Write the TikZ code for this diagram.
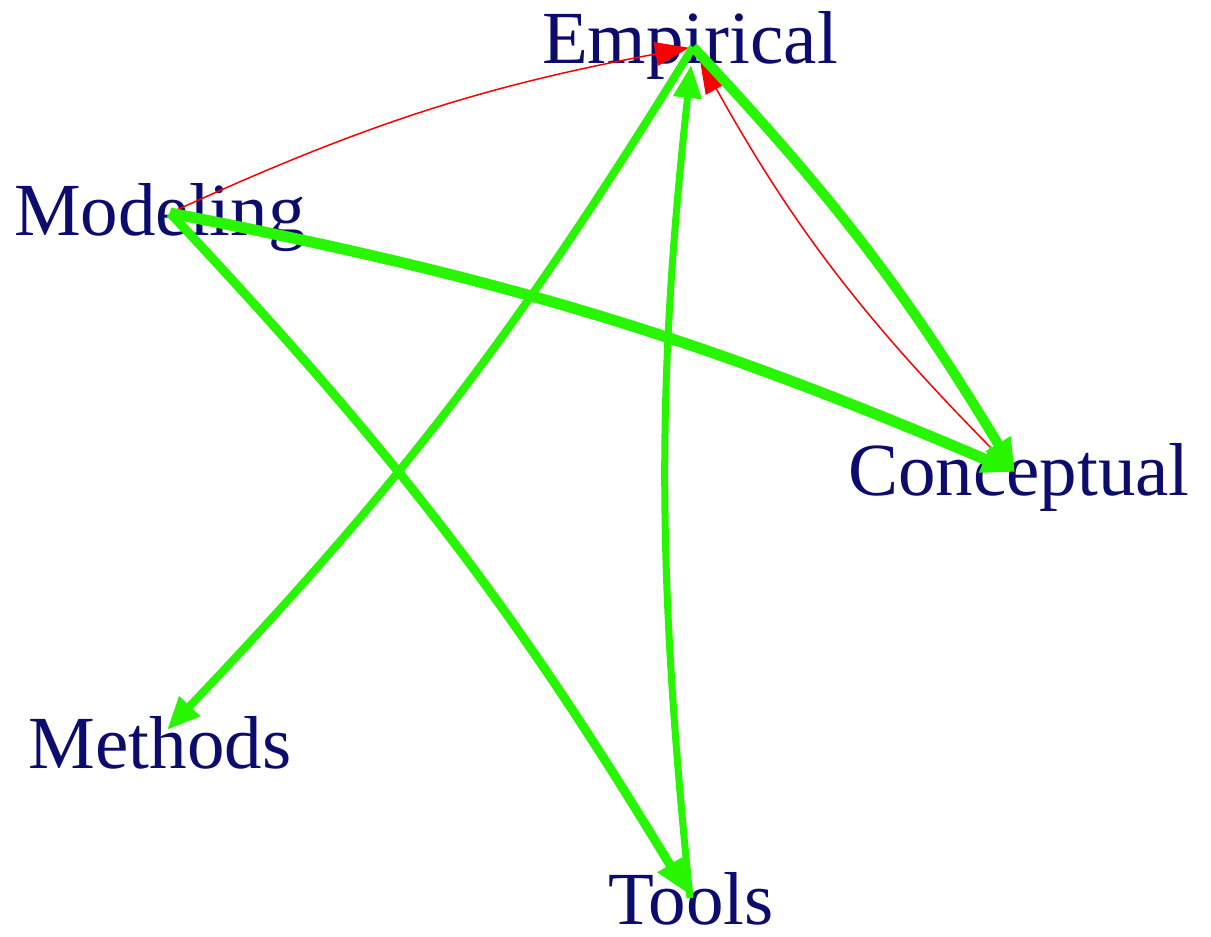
\documentclass[tikz,border=0pt]{standalone}
\usepackage{fontspec}
\setmainfont{Liberation Serif}
\usetikzlibrary{arrows.meta}
\definecolor{navytext}{RGB}{12,12,110}
\definecolor{edgegreen}{RGB}{40,245,0}
\definecolor{edgered}{RGB}{250,0,0}
\tikzset{
  lbl/.style={inner sep=0pt, anchor=base, text=navytext, font=\fontsize{75}{90}\selectfont},
  gedge/.style={draw=edgegreen, -{Triangle[length=33pt,width=27pt]}},
  redge/.style={draw=edgered, line width=1.5pt, -{Triangle[length=34pt,width=24pt]}},
}
\begin{document}
\begin{tikzpicture}[x=1pt,y=1pt]
\useasboundingbox (0,0) rectangle (1211,-937);
% labels
\node[lbl] (Etxt) at (690,-63) {Empirical};
\node[lbl] (Motxt) at (160,-235) {Modeling};
\node[lbl] (Ctxt) at (1019,-495) {Conceptual};
\node[lbl] (Metxt) at (160,-768) {Methods};
\node[lbl] (Ttxt) at (691,-924) {Tools};
% graph points
\coordinate (E) at (693,-47);
\coordinate (Mo) at (170,-213);
\coordinate (C) at (1015,-472);
\coordinate (Me) at (167,-730);
\coordinate (T) at (690,-898);
% edges
\draw[redge, shorten >=4pt] (Mo) to[bend left=7] (E);
\draw[redge, shorten >=14pt] (C) to[bend left=8] (E);
\draw[gedge, line width=10pt] (E) to[bend left=6] (C);
\draw[gedge, line width=11pt] (Mo) to[bend left=6] (C);
\draw[gedge, line width=8pt] (E) to[bend left=6] (Me);
\draw[gedge, line width=9pt, shorten >=6pt] (Mo) to[bend left=6] (T);
\draw[gedge, line width=7pt, shorten >=18pt] (T) to[bend left=6] (E);
\end{tikzpicture}
\end{document}
